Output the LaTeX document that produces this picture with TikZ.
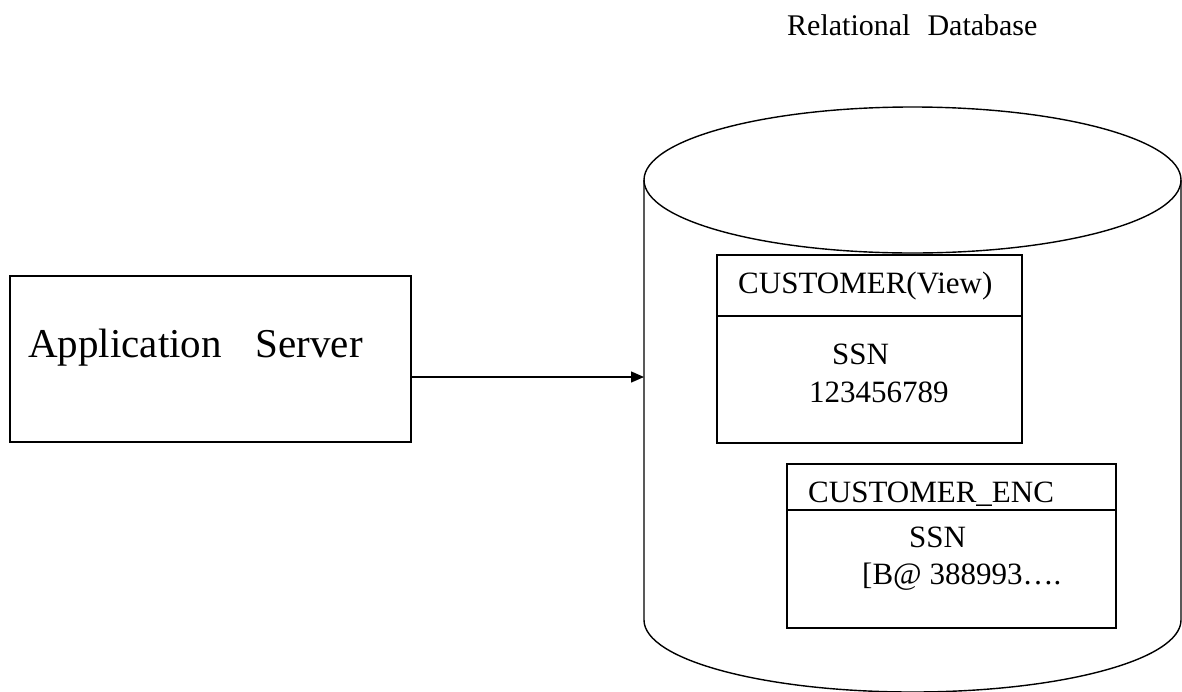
\documentclass[tikz,border=0pt]{standalone}
\usepackage{fontspec}
\setmainfont{Liberation Serif}
\usetikzlibrary{arrows.meta,shapes.geometric}
\begin{document}
\begin{tikzpicture}[x=1pt,y=-1pt,
  line/.style={draw=black,line width=1.4pt},
  boxnode/.style={line,rectangle,inner sep=0pt},
  lbl/.style={anchor=base west,inner sep=0pt,font=\fontsize{31}{36}\selectfont},
  arrowline/.style={line,-{Triangle[length=13pt,width=11pt]}}]
\useasboundingbox (0,0) rectangle (1182,691);
\clip (0,0) rectangle (1182,691);
% title
\node[lbl,font=\fontsize{30}{34}\selectfont] (title) at (787,35) {Relational\hspace{17pt}Database};
% application server
\node[boxnode,minimum width=401pt,minimum height=166pt] (app) at (210.5,359) {};
\node[lbl,font=\fontsize{41}{46}\selectfont] (apptext) at (28,357) {Application\hspace{34pt}Server};
% cylinder
\node[line,ellipse,minimum width=537pt,minimum height=146pt,inner sep=0pt] (dbtop) at (912.5,180) {};
\coordinate (dbl) at (644,180);
\coordinate (dbr) at (1181,180);
\coordinate (dbbl) at (644,620);
\coordinate (dbbr) at (1181,620);
\draw[line] (dbl) -- (dbbl) arc[start angle=180,end angle=360,x radius=268.5pt,y radius=72pt] -- (dbr);
% arrow
\coordinate (arrowend) at (644,377);
\draw[arrowline] (app.east |- arrowend) -- (arrowend);
% CUSTOMER(View)
\node[boxnode,minimum width=305pt,minimum height=188pt] (view) at (869.5,349) {};
\coordinate (viewdiv) at (717,316);
\draw[line] (viewdiv) -- (view.east |- viewdiv);
\node[lbl] (viewtitle) at (738,293) {CUSTOMER(View)};
\node[lbl] (viewssn) at (832,364) {SSN};
\node[lbl] (viewval) at (809,402) {123456789};
% CUSTOMER_ENC
\node[boxnode,minimum width=329pt,minimum height=164pt] (enc) at (951.5,546) {};
\coordinate (encdiv) at (787,510);
\draw[line] (encdiv) -- (enc.east |- encdiv);
\node[lbl] (enctitle) at (808,502) {CUSTOMER\_ENC};
\node[lbl] (encssn) at (909,547) {SSN};
\node[lbl] (encval) at (862,584) {[B@ 388993\dots.};
\end{tikzpicture}
\end{document}
